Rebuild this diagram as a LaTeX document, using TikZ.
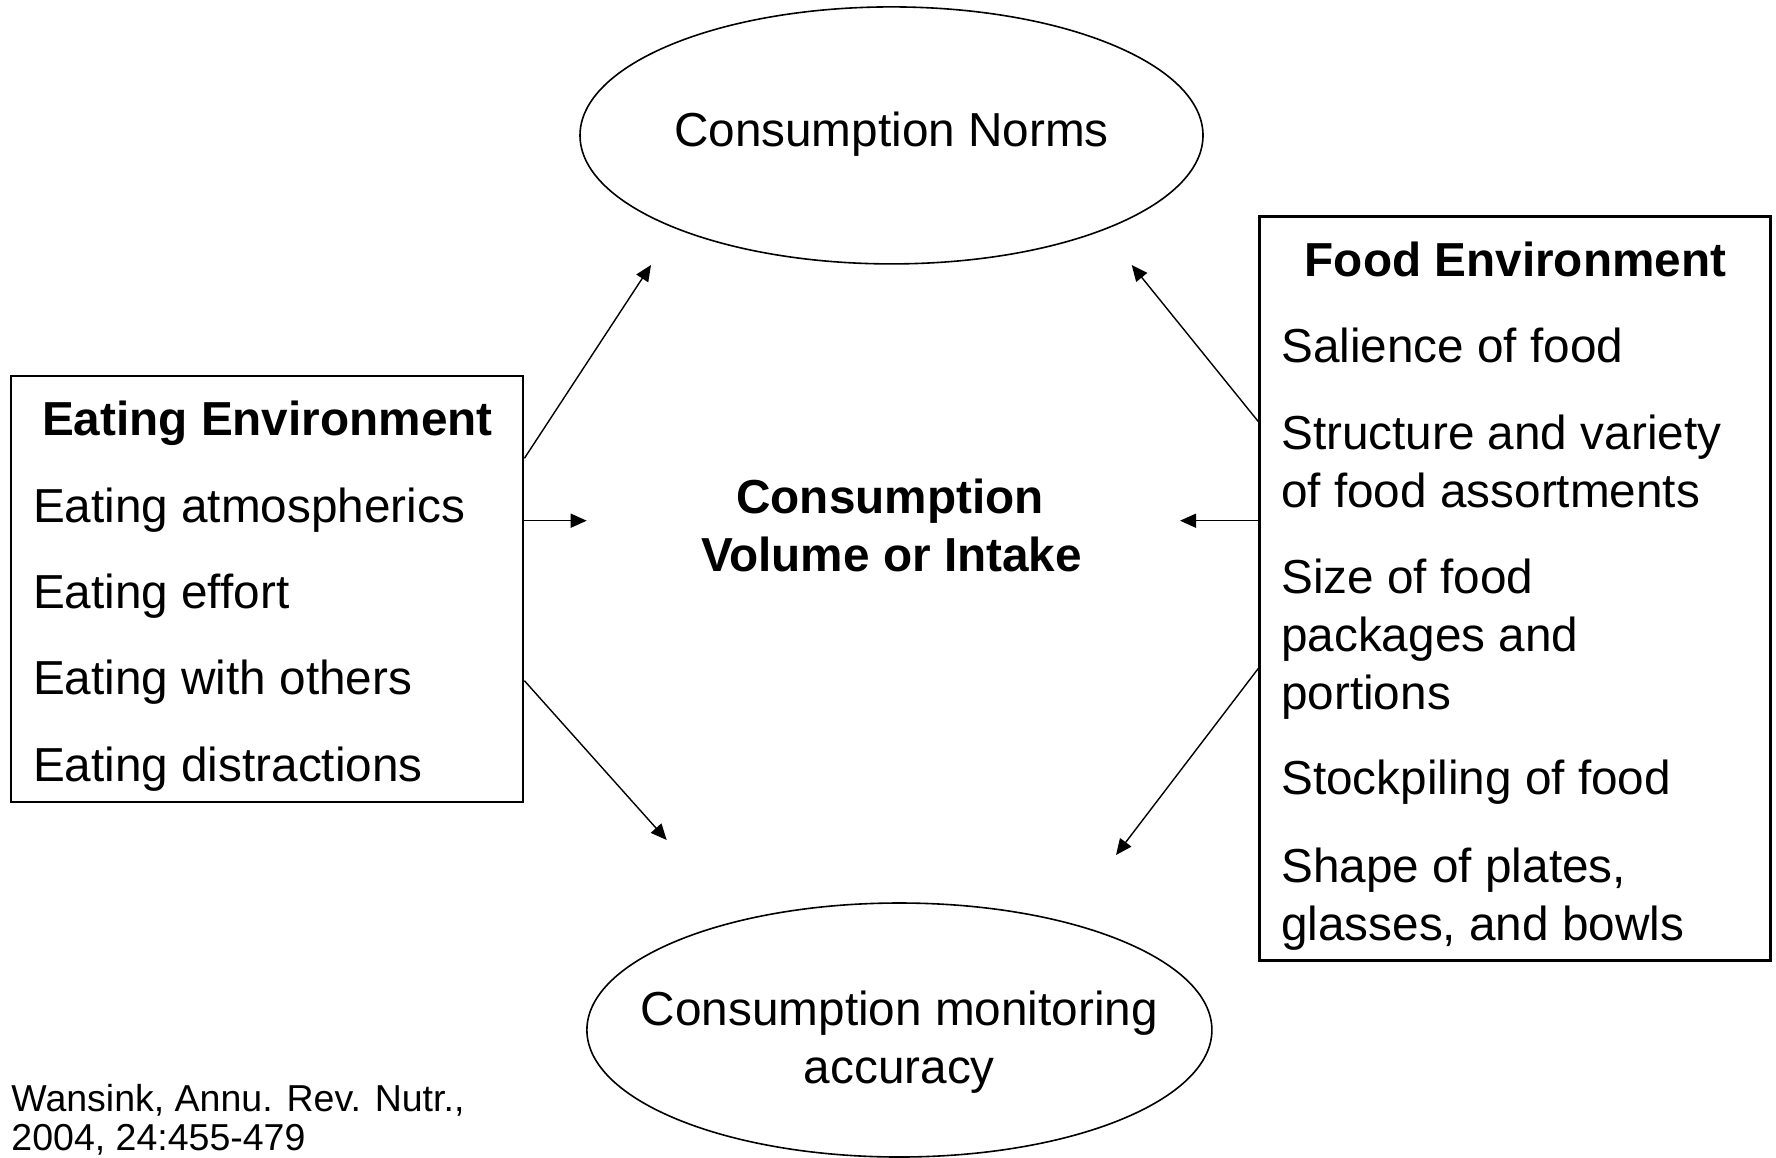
\documentclass[tikz,border=0pt]{standalone}
\usepackage{fontspec}
\setmainfont{Liberation Sans}
\usetikzlibrary{shapes.geometric,arrows.meta}
\newcommand{\bigtxt}{\fontsize{47.7}{57.8}\selectfont}
\newcommand{\smalltxt}{\fontsize{37.5}{40.8}\selectfont}
\tikzset{
  frame/.style={draw, line width=2.2pt, rectangle, inner sep=0pt},
  oval/.style={draw, line width=1.6pt, ellipse, inner sep=0pt},
  txt/.style={font=\bigtxt, inner sep=0pt, anchor=base west},
  hdr/.style={font=\bigtxt\bfseries, inner sep=0pt, anchor=base},
  link/.style={line width=1.4pt, -{Triangle[length=16pt,width=14pt]}}
}
\begin{document}
\begin{tikzpicture}[x=1pt,y=-1pt]
\useasboundingbox (0,0) rectangle (1776,1157);
% ellipses
\node[oval, minimum width=623pt, minimum height=257pt] (norms) at (891.5,135.4) {};
\node[hdr, font=\bigtxt] at (891.5,146) {Consumption Norms};
\node[oval, minimum width=625pt, minimum height=254pt] (monit) at (899.4,1030) {};
\node[hdr, font=\bigtxt] at (899.4,1025) {Consumption monitoring};
\node[hdr, font=\bigtxt] at (899.4,1083) {accuracy};
% centre
\node[hdr] (c1) at (890,513) {Consumption};
\node[hdr] (c2) at (891.5,571) {Volume or Intake};
% left box
\node[frame, minimum width=512pt, minimum height=426pt] (L) at (267.3,589) {};
\node[hdr] at (267.3,435) {Eating Environment};
\node[txt] at (32.8,522) {Eating atmospherics};
\node[txt] at (32.8,608) {Eating effort};
\node[txt] at (32.8,694.5) {Eating with others};
\node[txt] at (32.8,781.6) {Eating distractions};
% right box
\node[frame, minimum width=511pt, minimum height=744pt] (R) at (1515,588.4) {};
\node[hdr] at (1515.5,276.4) {Food Environment};
\node[txt] at (1281,362.5) {Salience of food};
\node[txt] at (1281,449.7) {Structure and variety};
\node[txt] at (1281,507.5) {of food assortments};
\node[txt] at (1281,593.5) {Size of food};
\node[txt] at (1281,651.3) {packages and};
\node[txt] at (1281,709.1) {portions};
\node[txt] at (1281,794) {Stockpiling of food};
\node[txt] at (1281,882.4) {Shape of plates,};
\node[txt] at (1281,940.2) {glasses, and bowls};
% citation
\node[font=\smalltxt, inner sep=0pt, anchor=base west] (cite1) at (11.3,1111) {Wansink, Annu. Rev. Nutr.,};
\node[font=\smalltxt, inner sep=0pt, anchor=base west] (cite2) at (11.3,1150) {2004, 24:455-479};
% arrow end points
\coordinate (t1) at (651,265);
\coordinate (t2) at (586.7,520.7);
\coordinate (t3) at (666.7,840);
\coordinate (t4) at (1131.7,265);
\coordinate (t5) at (1180,520.7);
\coordinate (t6) at (1116,855);
% arrows
\draw[link] (L.east |- 0,458.3) -- (t1);
\draw[link] (L.east |- 0,520.7) -- (t2);
\draw[link] (L.east |- 0,680.7) -- (t3);
\draw[link] (R.west |- 0,421.7) -- (t4);
\draw[link] (R.west |- 0,520.7) -- (t5);
\draw[link] (R.west |- 0,668.3) -- (t6);
\end{tikzpicture}
\end{document}
